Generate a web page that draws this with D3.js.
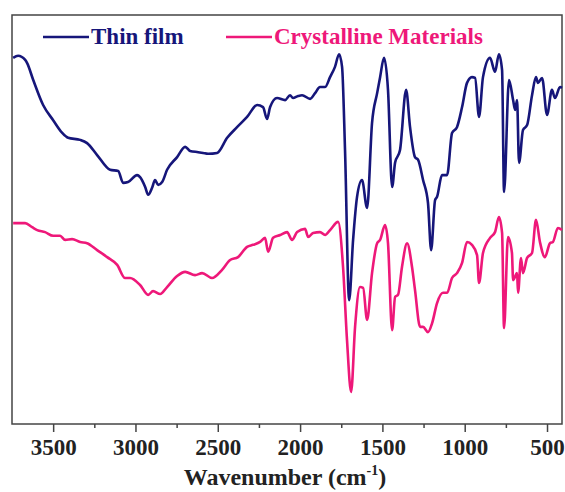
<!DOCTYPE html>
<html lang="en">
<head>
<meta charset="utf-8">
<script src="https://d3js.org/d3.v7.min.js"></script>
<style>
body { margin: 0; background: #fff; }
svg { display: block; }
.axis path, .axis line { stroke: #444; stroke-width: 1.5; fill: none; }
.axis text { font-family: "Liberation Serif", "Times New Roman", serif; font-weight: bold; font-size: 23px; fill: #222; }
</style>
</head>
<body>
<svg width="565" height="492"></svg>
<script>
// wavenumber (cm-1) / transmittance (arb. %)
var thinWave = [3743,3713,3670,3658,3621,3561,3500,3445,3409,3336,3294,3233,3154,3105,3075,3045,2990,2972,2941,2923,2899,2881,2862,2838,2808,2747,2698,2668,2619,2589,2559,2504,2443,2383,2322,2261,2225,2201,2182,2140,2091,2061,2043,2012,1988,1939,1909,1879,1848,1818,1788,1763,1745,1727,1702,1678,1654,1624,1593,1563,1532,1514,1490,1466,1441,1423,1393,1356,1332,1302,1283,1253,1223,1204,1180,1168,1138,1107,1077,1047,1016,986,956,937,913,889,846,816,792,773,761,731,706,694,682,670,646,621,591,567,555,530,500,470,452,421,409];
var thinT = [89.3,89.8,88.8,88.0,83.9,77.8,74.1,71.0,69.8,69.3,68.5,65.6,62.0,61.7,58.8,59.0,60.7,60.2,57.8,55.9,57.6,59.5,58.3,59.0,62.0,65.1,67.6,66.6,66.3,66.1,65.9,66.1,69.8,72.4,74.9,77.8,77.3,74.4,77.3,79.5,79.0,80.2,79.5,80.0,80.2,79.3,80.7,82.2,82.2,84.6,87.1,90.2,87.1,66.8,30.2,44.9,55.4,59.5,52.7,73.4,80.7,84.6,89.3,81.5,57.8,63.7,66.8,81.5,72.4,65.1,64.4,59.5,53.9,42.4,54.6,55.4,60.7,60.7,71.0,72.4,77.3,83.2,84.6,84.4,74.9,84.6,89.3,85.9,90.2,86.3,56.6,83.9,79.0,76.6,79.0,63.7,71.7,72.9,80.2,84.6,83.2,84.4,75.4,81.5,79.5,82.2,82.0];

var crystWave = [3743,3670,3628,3597,3549,3500,3458,3427,3385,3336,3294,3233,3172,3111,3063,3033,2972,2923,2893,2850,2808,2747,2698,2638,2595,2535,2474,2425,2377,2322,2286,2243,2213,2194,2164,2121,2079,2049,2018,1970,1951,1921,1879,1848,1818,1769,1739,1715,1690,1666,1636,1617,1593,1563,1532,1514,1484,1466,1441,1423,1405,1381,1350,1320,1302,1271,1253,1223,1198,1168,1132,1107,1077,1047,1016,986,956,925,913,889,846,816,792,773,761,737,713,706,682,676,658,646,621,591,567,543,513,482,464,434,409];
var crystT = [49.0,49.0,48.0,47.3,46.8,45.9,45.9,44.9,45.1,44.4,44.1,42.4,40.7,38.8,35.6,35.6,33.9,31.5,32.4,31.7,33.4,36.1,37.1,36.3,36.8,35.6,37.6,40.0,40.7,43.2,43.7,44.4,45.4,42.0,45.4,46.1,46.8,44.9,46.8,47.6,45.6,46.6,46.8,46.1,47.3,49.3,38.3,20.5,7.8,23.7,33.4,33.2,25.4,36.8,44.1,44.9,48.5,44.1,22.9,31.0,31.5,38.3,44.1,38.3,32.7,23.7,23.7,22.4,24.6,29.5,32.0,32.0,35.6,36.8,39.3,44.4,43.7,41.2,34.4,41.7,45.4,46.8,50.5,46.6,23.4,45.6,41.7,35.1,36.8,32.0,40.5,36.8,40.5,41.7,49.8,44.4,40.7,44.1,44.4,47.8,47.3];

var tickVals = [3500,3000,2500,2000,1500,1000,500];
var minorTicks = [3250,2750,2250,1750,1250,750];
var seriesNames = ["Thin film", "Crystalline Materials"];
var seriesColors = ["#16167a", "#ee1879"];

var margin = {top: 15, right: 3, bottom: 68, left: 12},
    width = 565 - margin.left - margin.right,
    height = 492 - margin.top - margin.bottom;

var svg = d3.select("svg");
var g = svg.append("g")
    .attr("transform", "translate(" + margin.left + "," + margin.top + ")");

var x = d3.scaleLinear().domain([3750, 409]).range([0, width]);
// keep the old vertical mapping (0..100 over 424..14 px)
var y = d3.scaleLinear().domain([0, 100]).range([height, -1]);

// frame
g.append("rect")
    .attr("width", width).attr("height", height)
    .attr("fill", "none").attr("stroke", "#444").attr("stroke-width", 1.5);

// minor ticks
g.append("g")
    .attr("class", "axis")
    .attr("transform", "translate(0," + height + ")")
    .call(d3.axisBottom(x).tickValues(minorTicks).tickSize(4).tickFormat(""))
    .select(".domain").remove();

// major ticks + labels
var xAxis = g.append("g")
    .attr("class", "axis")
    .attr("transform", "translate(0," + height + ")")
    .call(d3.axisBottom(x).tickValues(tickVals).tickSize(8).tickPadding(7).tickFormat(d3.format("d")));
xAxis.select(".domain").remove();

// axis title
var title = svg.append("text")
    .attr("x", 285).attr("y", 485)
    .attr("text-anchor", "middle")
    .style("font-family", "'Liberation Serif', 'Times New Roman', serif")
    .style("font-weight", "bold").style("font-size", "24px").style("fill", "#222");
title.append("tspan").text("Wavenumber (cm");
title.append("tspan").attr("dy", -10).style("font-size", "14px").text("-1");
title.append("tspan").attr("dy", 10).text(")");

// spectra
var line = d3.line()
    .x(function(d) { return x(d[0]); })
    .y(function(d) { return y(d[1]); })
    .curve(d3.curveMonotoneX);

var thinData = thinWave.map(function(w, i) { return [w, thinT[i]]; });
var crystData = crystWave.map(function(w, i) { return [w, crystT[i]]; });

g.append("path").datum(crystData)
    .attr("d", line).attr("fill", "none")
    .attr("stroke", seriesColors[1]).attr("stroke-width", 2.6)
    .attr("stroke-linejoin", "round");

g.append("path").datum(thinData)
    .attr("d", line).attr("fill", "none")
    .attr("stroke", seriesColors[0]).attr("stroke-width", 2.6)
    .attr("stroke-linejoin", "round");

// legend
var legendX = [43, 226];
seriesNames.forEach(function(name, i) {
  svg.append("line")
      .attr("x1", legendX[i]).attr("x2", legendX[i] + 46)
      .attr("y1", 37).attr("y2", 37)
      .attr("stroke", seriesColors[i]).attr("stroke-width", 2.6);
  svg.append("text")
      .attr("x", legendX[i] + 48).attr("y", 44)
      .style("font-family", "'Liberation Serif', 'Times New Roman', serif")
      .style("font-weight", "bold").style("font-size", "23px")
      .style("fill", seriesColors[i])
      .text(name);
});
</script>
</body>
</html>
